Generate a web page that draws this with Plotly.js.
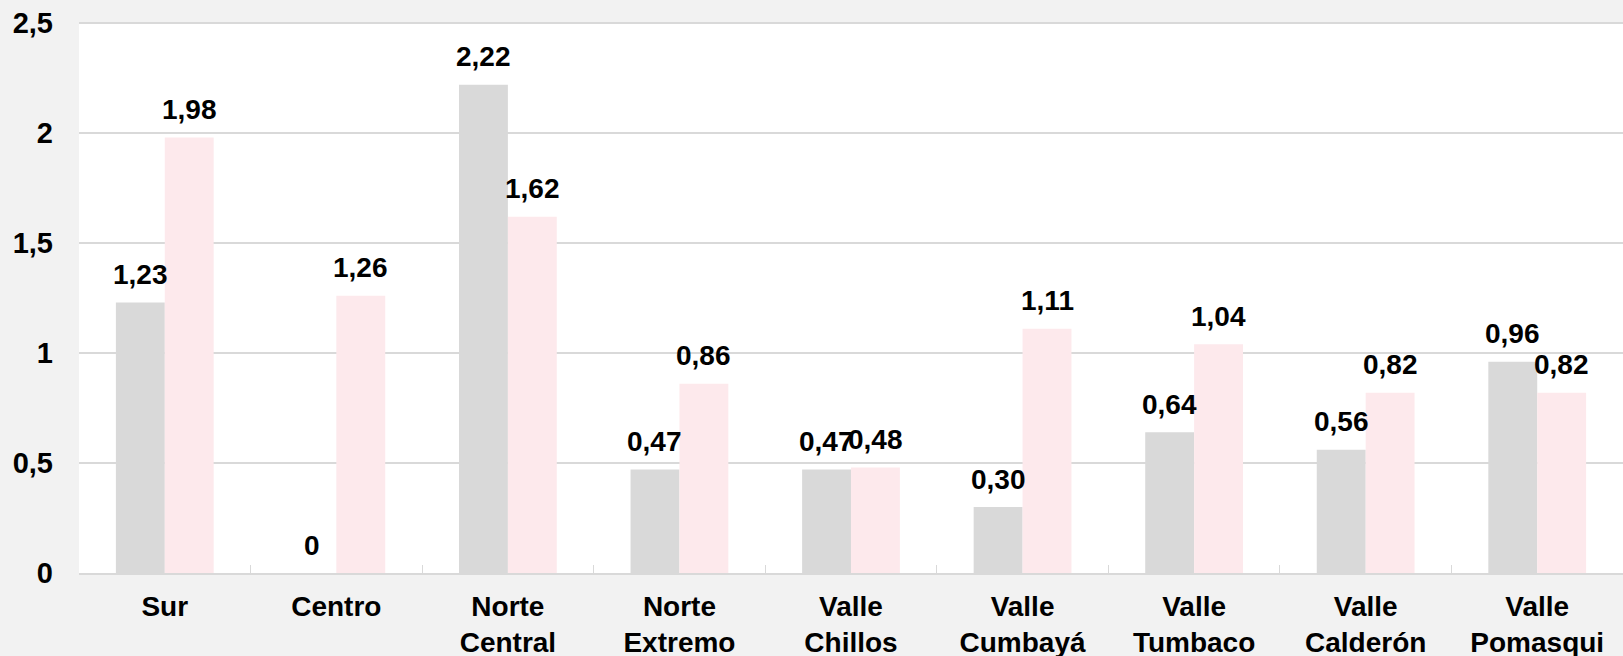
<!DOCTYPE html>
<html>
<head>
<meta charset="utf-8">
<script src="https://cdn.plot.ly/plotly-3.0.1.min.js"></script>
<style>
	html, body {margin: 0; padding: 0; background: #f2f2f2;}
	#chart {width: 1623px; height: 656px;}
</style>
</head>
<body>
<div id="chart"></div>
<script>
"use strict";

//DATA
const zonas = ["Sur", "Centro", "Norte<br>Central", "Norte<br>Extremo", "Valle<br>Chillos",
	"Valle<br>Cumbayá", "Valle<br>Tumbaco", "Valle<br>Calderón", "Valle<br>Pomasqui"];
const serieGris = [1.23, 0, 2.22, 0.47, 0.47, 0.30, 0.64, 0.56, 0.96];
const serieRosa = [1.98, 1.26, 1.62, 0.86, 0.48, 1.11, 1.04, 0.82, 0.82];
const yTicks = [0, 0.5, 1, 1.5, 2, 2.5];

const GRIS = '#d9d9d9', ROSA = '#fde9ec';
const FAMILIA = 'Liberation Sans, Arial, sans-serif';
const fuente = {family: FAMILIA, size: 29, color: '#000000', weight: 'bold'};
const fuenteX = {family: FAMILIA, size: 28, color: '#000000', weight: 'bold'};
const fuenteEtiq = {family: FAMILIA, size: 28, color: '#000000', weight: 'bold'};

function etiqueta(v){
	return (v === 0? "0": v.toFixed(2).replace('.', ','));
}

//LABELS ABOVE BARS
function etiquetas(vals, shift){
	return vals.map((v, i) => ({
		x: zonas[i], y: v,
		xref: 'x', yref: 'y',
		text: etiqueta(v),
		showarrow: false,
		xshift: shift, yshift: 28,
		yanchor: 'middle',
		font: fuenteEtiq
	}));
}

const graph = [
	{
		x: zonas, y: serieGris,
		type: 'bar', name: 'A',
		marker: {color: GRIS},
		hoverinfo: 'none'
	},
	{
		x: zonas, y: serieRosa,
		type: 'bar', name: 'B',
		marker: {color: ROSA},
		hoverinfo: 'none'
	}
];

const layout = {
	width: 1623, height: 656,
	margin: {l: 79, r: 0, t: 22, b: 83},
	paper_bgcolor: '#f2f2f2',
	plot_bgcolor: '#ffffff',
	barmode: 'group',
	bargap: 0.43,
	bargroupgap: 0,
	showlegend: false,
	separators: ',.',
	font: fuente,
	xaxis: {
		type: 'category',
		showline: true, linecolor: GRIS, linewidth: 2,
		ticks: 'inside', tickson: 'boundaries', ticklen: 8, tickcolor: GRIS, tickwidth: 1,
		ticklabelstandoff: 7,
		tickfont: fuenteX,
		showgrid: false
	},
	yaxis: {
		range: [0, 2.505],
		tickvals: yTicks,
		ticktext: yTicks.map(t => String(t).replace('.', ',')),
		showgrid: true, gridcolor: GRIS, gridwidth: 2,
		zeroline: false, showline: false,
		ticks: '', ticklabelstandoff: 25,
		tickfont: fuente
	},
	annotations: etiquetas(serieGris, -24.5).concat(etiquetas(serieRosa, 24.5))
};

Plotly.newPlot('chart', graph, layout, {displayModeBar: false, staticPlot: true});
</script>
</body>
</html>
